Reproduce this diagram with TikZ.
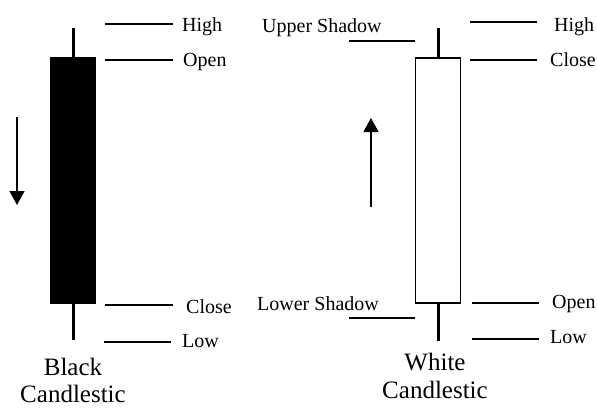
\documentclass[tikz,border=0pt]{standalone}
\usepackage{fontspec}
\setmainfont{Liberation Serif}
\usetikzlibrary{arrows.meta}
\begin{document}
\begin{tikzpicture}[x=1pt,y=-1pt,
  lbl/.style={anchor=base west,inner sep=0pt,font=\fontsize{20}{24}\selectfont},
  ttl/.style={anchor=base,inner sep=0pt,font=\fontsize{25}{29}\selectfont},
  leader/.style={line width=1.5pt},
  wick/.style={line width=3pt},
  trend/.style={line width=1.5pt,-{Triangle[width=15pt,length=14pt]}}]
\useasboundingbox (0,0) rectangle (597,410);
% black candle
\node[fill=black,inner sep=0pt,minimum width=46pt,minimum height=247pt] (bb) at (73,180.5) {};
\coordinate (bhi) at (73,28);
\coordinate (blo) at (73,340);
\draw[wick] (bhi) -- (bb.north);
\draw[wick] (bb.south) -- (blo);
% white candle
\node[draw,line width=1.5pt,fill=white,inner sep=0pt,minimum width=45pt,minimum height=245pt] (wb) at (438,180.5) {};
\coordinate (whi) at (438,28);
\coordinate (wlo) at (438,341);
\draw[wick] (whi) -- (wb.north);
\draw[wick] (wb.south) -- (wlo);
% left leaders and labels
\coordinate (l1a) at (105,24);  \coordinate (l1b) at (173,24);
\coordinate (l2a) at (105,60);  \coordinate (l2b) at (173,60);
\coordinate (l3a) at (105,305); \coordinate (l3b) at (173,305);
\coordinate (l4a) at (104,342); \coordinate (l4b) at (171,342);
\draw[leader] (l1a) -- (l1b);
\draw[leader] (l2a) -- (l2b);
\draw[leader] (l3a) -- (l3b);
\draw[leader] (l4a) -- (l4b);
\node[lbl] (tbh) at (182,31) {High};
\node[lbl] (tbo) at (183,66) {Open};
\node[lbl] (tbc) at (186,313) {Close};
\node[lbl] (tbl) at (182,347) {Low};
% right leaders and labels
\coordinate (r1a) at (470,22);  \coordinate (r1b) at (537,22);
\coordinate (r2a) at (470,60);  \coordinate (r2b) at (537,60);
\coordinate (r3a) at (472,303); \coordinate (r3b) at (539,303);
\coordinate (r4a) at (472,339); \coordinate (r4b) at (539,339);
\coordinate (s1a) at (349,41);  \coordinate (s1b) at (415,41);
\coordinate (s2a) at (349,318); \coordinate (s2b) at (415,318);
\draw[leader] (r1a) -- (r1b);
\draw[leader] (r2a) -- (r2b);
\draw[leader] (r3a) -- (r3b);
\draw[leader] (r4a) -- (r4b);
\draw[leader] (s1a) -- (s1b);
\draw[leader] (s2a) -- (s2b);
\node[lbl] (twh) at (554,31) {High};
\node[lbl] (twc) at (550,66) {Close};
\node[lbl] (two) at (552,308) {Open};
\node[lbl] (twl) at (550,343) {Low};
\node[lbl] (tus) at (262,32) {Upper Shadow};
\node[lbl] (tls) at (257,310) {Lower Shadow};
% trend arrows
\coordinate (da) at (17,117); \coordinate (db) at (17,205);
\coordinate (ua) at (371,207); \coordinate (ub) at (371,118);
\draw[trend] (da) -- (db);
\draw[trend] (ua) -- (ub);
% titles
\node[ttl] (t1) at (73,375) {Black};
\node[ttl] (t2) at (73,402) {Candlestic};
\node[ttl] (t3) at (435,370) {White};
\node[ttl] (t4) at (435,398) {Candlestic};
\end{tikzpicture}
\end{document}
